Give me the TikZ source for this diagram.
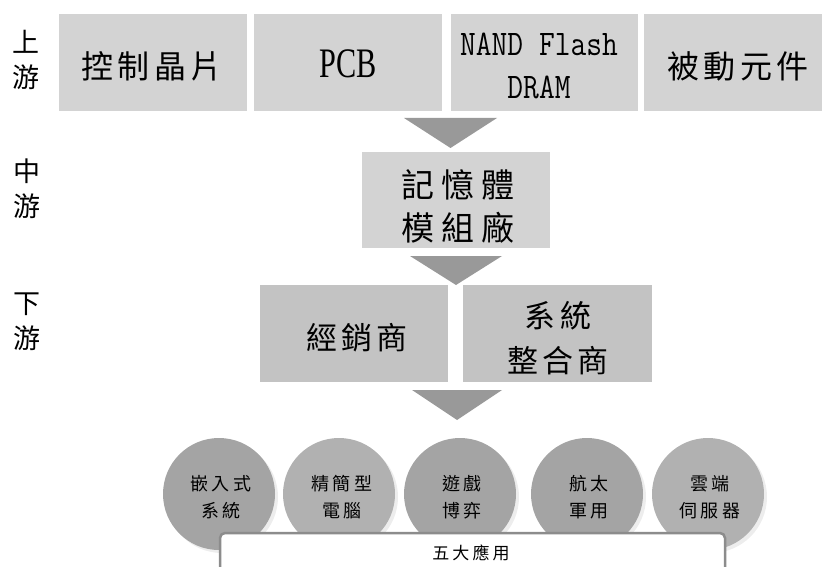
\documentclass[tikz,border=0pt]{standalone}
\usepackage{fontspec}
\usepackage{graphicx}
\setmainfont{Noto Sans CJK TC}
\newfontfamily\cjkbig[LetterSpace=14]{Noto Sans CJK TC}
\newfontfamily\cjkmid[LetterSpace=20]{Noto Sans CJK TC}
\newfontfamily\cjksmall[LetterSpace=18]{Noto Sans CJK TC}
\newfontfamily\serifl{Liberation Serif}
\definecolor{boxlight}{HTML}{D3D3D3}
\definecolor{boxdark}{HTML}{C3C3C3}
\definecolor{arrfill}{HTML}{999999}
\definecolor{circdark}{HTML}{A4A4A4}
\definecolor{circlight}{HTML}{B1B1B1}
\definecolor{barline}{HTML}{8C8C8C}
\begin{document}
\begin{tikzpicture}[x=1pt,y=-1pt,
  boxtop/.style={fill=boxlight, draw=none, inner sep=0pt, minimum height=97pt},
  boxbot/.style={fill=boxdark, draw=none, inner sep=0pt, minimum height=97pt},
  bigtxt/.style={font=\cjkbig\fontsize{32}{38}\selectfont, inner sep=0pt, align=center},
  midtxt/.style={font=\cjkmid\fontsize{33}{43}\selectfont, inner sep=0pt, align=center},
  bottxt/.style={font=\cjkbig\fontsize{31}{45}\selectfont, inner sep=0pt, align=center},
  sidetxt/.style={font=\fontsize{27}{35}\selectfont, inner sep=0pt, align=center},
  circtxt/.style={font=\cjksmall\fontsize{18}{27}\selectfont, inner sep=0pt, align=center},
  arrowtri/.style={fill=arrfill, draw=none},
  circdk/.style={circle, fill=circdark, draw=none, minimum size=112pt, inner sep=0pt},
  circlt/.style={circle, fill=circlight, draw=none, minimum size=112pt, inner sep=0pt},
  shade/.style={circle, fill=black!7, draw=none, minimum size=112pt, inner sep=0pt}
]
\useasboundingbox (0,0) rectangle (822,567);

% side labels
\node[sidetxt] (up) at (26,60) {上\\游};
\node[sidetxt] (mi) at (27,189) {中\\游};
\node[sidetxt] (dn) at (27,322) {下\\游};

% upstream boxes
\node[boxtop, minimum width=188pt] (b1) at (153,62.5) {};
\node[boxtop, minimum width=188pt] (b2) at (348,62.5) {};
\node[boxtop, minimum width=187pt] (b3) at (544.5,62.5) {};
\node[boxtop, minimum width=178pt] (b4) at (733,62.5) {};
\node[bigtxt] (t1) at (152,66) {控制晶片};
\node[inner sep=0pt, font=\serifl\fontsize{42}{44}\selectfont] (t2) at (348,64) {\scalebox{0.72}[1]{PCB}};
\node[inner sep=0pt, align=center, font=\ttfamily\fontsize{36}{43}\selectfont] (t3) at (539,65.5) {\scalebox{0.85}[1]{NAND Flash}\\\scalebox{0.85}[1]{DRAM}};
\node[bigtxt] (t4) at (738,66) {被動元件};

% arrow 1
\fill[arrowtri] (404,118) -- (497,118) -- (450.5,148) -- cycle;

% midstream
\node[boxtop, minimum width=188pt, minimum height=96pt] (m) at (456,200) {};
\node[midtxt] (mt) at (458,206) {記憶體\\模組廠};

% arrow 2
\fill[arrowtri] (410,256) -- (502,256) -- (456,285) -- cycle;

% downstream
\node[boxbot, minimum width=188pt] (d1) at (354,333.5) {};
\node[boxbot, minimum width=189pt] (d2) at (557.5,333.5) {};
\node[bottxt] (dt1) at (357,338) {經銷商};
\node[bottxt] (dt2) at (558,338) {系統\\整合商};

% arrow 3
\fill[arrowtri] (412,390) -- (502,390) -- (457,420) -- cycle;

% application circles
\foreach \cx in {219,339,460,587,708} {
  \node[shade] at (\cx+3,497) {};
}
\node[circdk] (c1) at (219,494) {};
\node[circlt] (c2) at (339,494) {};
\node[circdk] (c3) at (460,494) {};
\node[circdk] (c4) at (587,494) {};
\node[circlt] (c5) at (708,494) {};
\node[circtxt] (ct1) at (221,497) {嵌入式\\系統};
\node[circtxt] (ct2) at (342,497) {精簡型\\電腦};
\node[circtxt] (ct3) at (462,497) {遊戲\\博弈};
\node[circtxt] (ct4) at (589,497) {航太\\軍用};
\node[circtxt] (ct5) at (710,497) {雲端\\伺服器};

% bar
\draw[fill=white, draw=barline, line width=2.5pt, rounded corners=5pt] (220,533) rectangle (725,590);
\node[circtxt, font=\cjksmall\fontsize{17}{20}\selectfont] (bar) at (471,553) {五大應用};
\end{tikzpicture}
\end{document}
